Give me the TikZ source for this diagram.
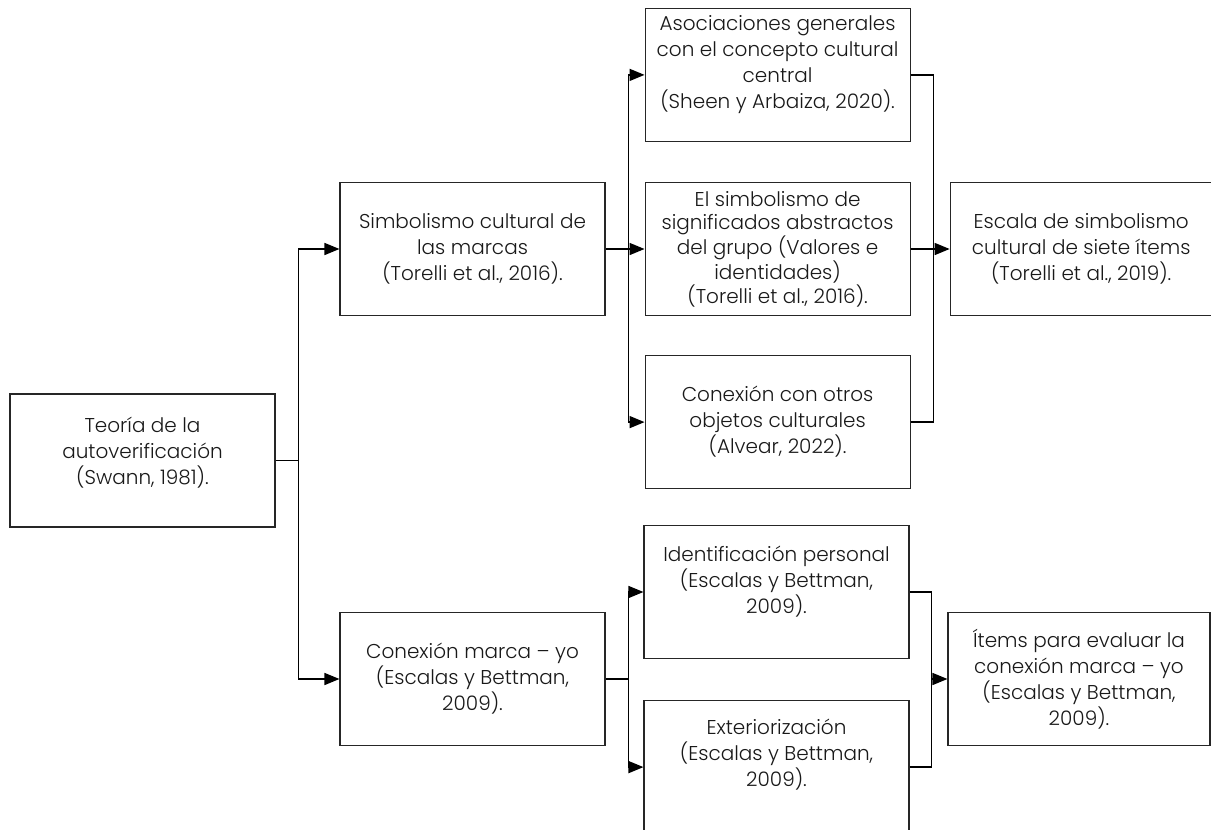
\documentclass[tikz,border=0pt]{standalone}
\usepackage{fontspec}
\IfFontExistsTF{Poppins Light}{\setmainfont{Poppins Light}}{\setmainfont{Poppins}}
\usetikzlibrary{positioning,arrows.meta}

\begin{document}
\begin{tikzpicture}[
  x=1pt, y=-1pt,
  box/.style={rectangle, draw=black!85, line width=1.1pt, minimum width=265pt, minimum height=133pt, align=center, inner sep=4pt, text=black!90, font=\fontsize{20}{26}\selectfont},
  tight/.style={font=\fontsize{20}{23.3}\selectfont},
  high/.style={text depth=#1},
  link/.style={line width=1.5pt},
  arrow/.style={link, -{Triangle[length=15pt,width=12pt]}}
  ]
  \useasboundingbox (0,0) rectangle (1211,830);

  % first two levels
  \node[box, high=20pt] (teoria) at (142.5,460.5) {Teoría de la\\autoverificación\\(Swann, 1981).};
  \node[box] (simb) at (472.5,249) {Simbolismo cultural de\\las marcas\\(Torelli et al., 2016).};
  \node[box] (marca) at (472.5,679) {Conexión marca – yo\\(Escalas y Bettman,\\2009).};

  % dimensions of the cultural symbolism
  \node[box, tight, right=39pt of simb] (grupo) {El simbolismo de\\significados abstractos\\del grupo (Valores e\\identidades)\\(Torelli et al., 2016).};
  \node[box, high=26pt, above=40pt of grupo] (asoc) {Asociaciones generales\\con el concepto cultural\\central\\(Sheen y Arbaiza, 2020).};
  \node[box, below=39pt of grupo] (otros) {Conexión con otros\\objetos culturales\\(Alvear, 2022).};
  \node[box, minimum width=262pt, right=39pt of grupo] (escala) {Escala de simbolismo\\cultural de siete ítems\\(Torelli et al., 2019).};

  % dimensions of the brand-self connection
  \node[box, high=24pt] (ident) at (776.5,592) {Identificación personal\\(Escalas y Bettman,\\2009).};
  \node[box, high=28pt, below=41pt of ident] (exter) {Exteriorización\\(Escalas y Bettman,\\2009).};
  \node[box, minimum width=262pt] (items) at (1079,679) {Ítems para evaluar la\\conexión marca – yo\\(Escalas y Bettman,\\2009).};

  \coordinate (s1) at ([xshift=23pt]teoria.east);
  \draw[link] (teoria.east) -- (s1);
  \draw[arrow] (s1) |- (simb.west);
  \draw[arrow] (s1) |- (marca.west);

  \coordinate (s2) at ([xshift=23pt]simb.east);
  \draw[arrow] (simb.east) -- (grupo.west);
  \draw[arrow] (s2) |- (asoc.west);
  \draw[arrow] (s2) |- (otros.west);

  \coordinate (c1) at ([xshift=23pt]grupo.east);
  \draw[link] (asoc.east) -| (c1);
  \draw[link] (otros.east) -| (c1);
  \draw[arrow] (grupo.east) -- (escala.west);

  \coordinate (s3) at ([xshift=23pt]marca.east);
  \draw[link] (marca.east) -- (s3);
  \draw[arrow] (s3) |- (ident.west);
  \draw[arrow] (s3) |- (exter.west);

  \coordinate (c2) at ([xshift=-16pt]items.west);
  \draw[link] (ident.east) -| (c2);
  \draw[link] (exter.east) -| (c2);
  \draw[arrow] (c2) -- (items.west);
\end{tikzpicture}
\end{document}
